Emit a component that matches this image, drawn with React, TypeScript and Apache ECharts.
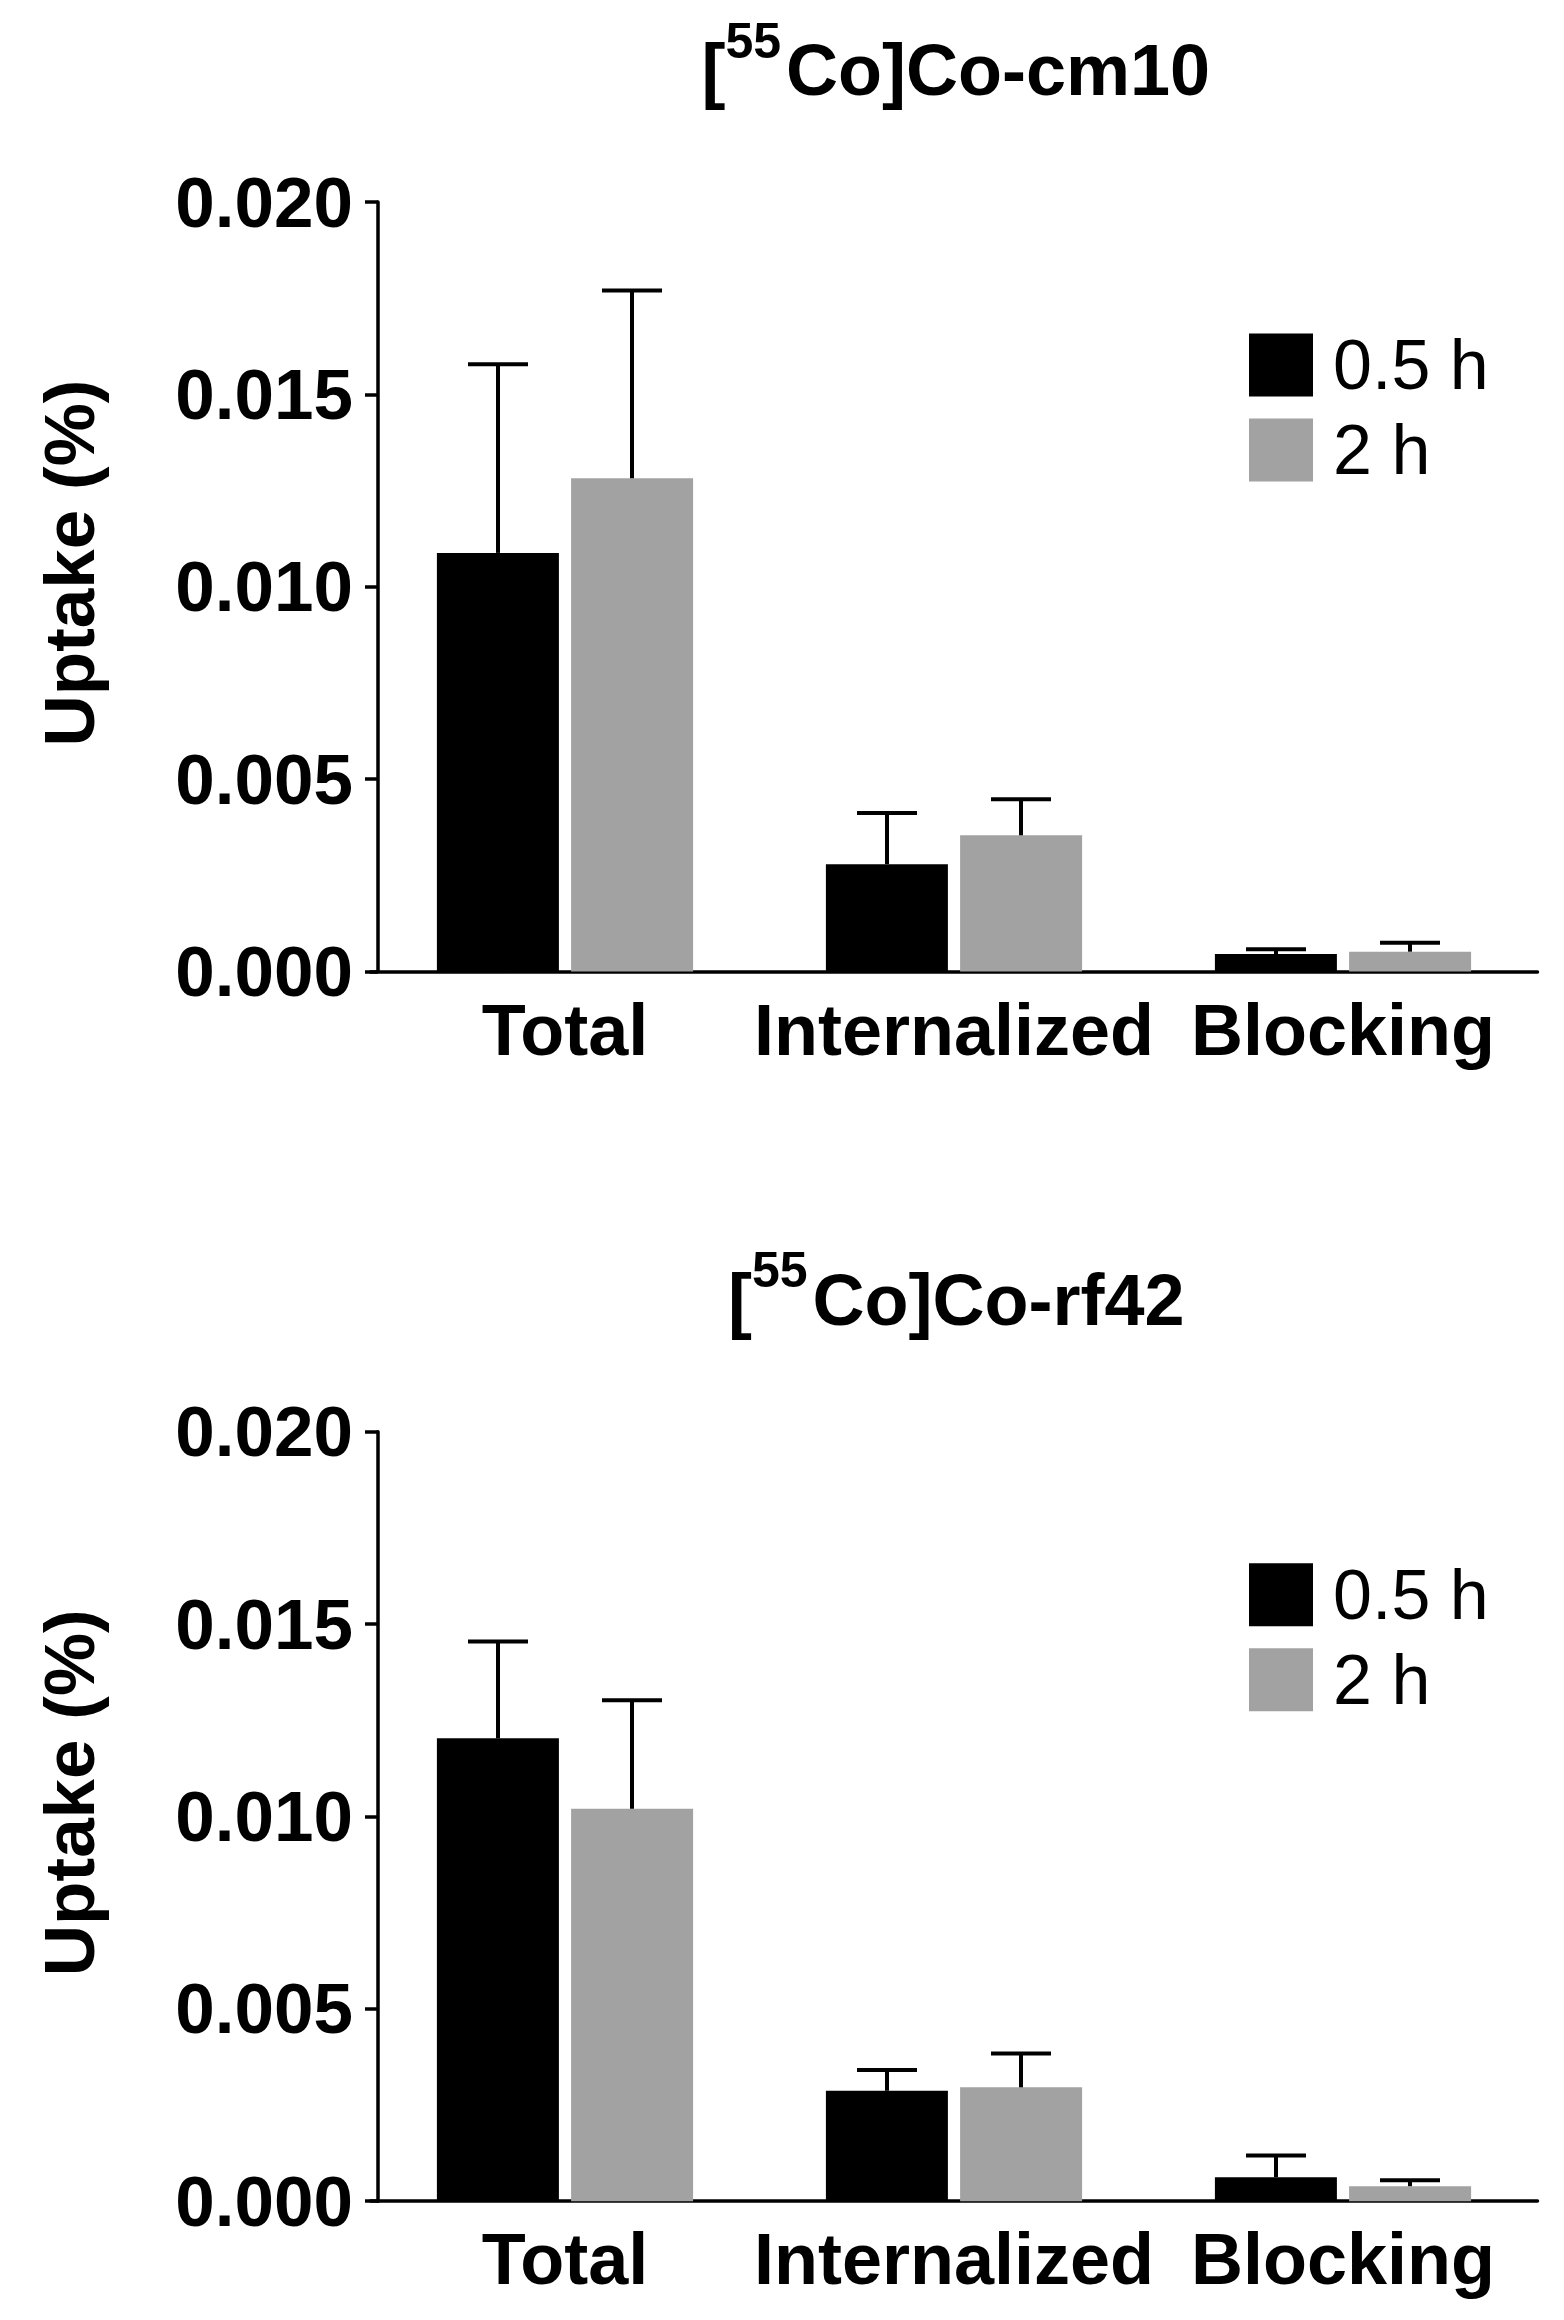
import React, { useEffect, useRef } from "react";
import * as echarts from "echarts";

const categories = ["Total", "Internalized", "Blocking"];
const seriesNames = ["0.5 h", "2 h"];
const yTicks = [0, 0.005, 0.01, 0.015, 0.02];

// [55Co]Co-cm10
const cm10Half = [0.01088, 0.00279, 0.000455];
const cm10HalfErr = [0.0049, 0.00133, 0.000122];
const cm10Two = [0.01282, 0.00354, 0.000515];
const cm10TwoErr = [0.00488, 0.00094, 0.000234];

// [55Co]Co-rf42
const rf42Half = [0.01203, 0.00287, 0.000624];
const rf42HalfErr = [0.00252, 0.00054, 0.000566];
const rf42Two = [0.0102, 0.00296, 0.00039];
const rf42TwoErr = [0.00282, 0.00088, 0.000156];

const FONT = "'Liberation Sans', Arial, Helvetica, sans-serif";
const BLACK = "#000000";
const GRAY = "#a2a2a2";
const BAR_W = 122;
const BAR_OFF = 67;

function errorSeries(
  gridIdx: number,
  vals: number[],
  errs: number[],
  off: number
) {
  return {
    type: "custom",
    xAxisIndex: gridIdx,
    yAxisIndex: gridIdx,
    z: 5,
    silent: true,
    encode: { x: 0, y: 1 },
    data: vals.map((v, i) => [i, v, errs[i]]),
    renderItem: (params: any, api: any) => {
      const cat = api.value(0);
      const v = api.value(1);
      const e = api.value(2);
      const base = api.coord([cat, v]);
      const top = api.coord([cat, v + e]);
      const x = base[0] + off;
      return {
        type: "group",
        children: [
          {
            type: "line",
            shape: { x1: x, y1: base[1], x2: x, y2: top[1] },
            style: { stroke: BLACK, lineWidth: 4 },
          },
          {
            type: "line",
            shape: { x1: x - 30, y1: top[1], x2: x + 30, y2: top[1] },
            style: { stroke: BLACK, lineWidth: 4 },
          },
        ],
      };
    },
  };
}

function barSeries(gridIdx: number, name: string, vals: number[], color: string) {
  return {
    type: "bar",
    name,
    xAxisIndex: gridIdx,
    yAxisIndex: gridIdx,
    data: vals,
    barWidth: BAR_W,
    barGap: "10%",
    itemStyle: { color },
    z: 2,
  };
}

function titleGraphic(ox: number, baseline: number, main: string, supX: number, mainX: number) {
  return [
    {
      type: "text",
      x: ox,
      y: baseline - 0.3465 * 72,
      style: { text: "[", font: `bold 72px ${FONT}`, fill: BLACK, verticalAlign: "middle", align: "left" },
    },
    {
      type: "text",
      x: supX,
      y: baseline - 37 - 0.3465 * 50,
      style: { text: "55", font: `bold 50px ${FONT}`, fill: BLACK, verticalAlign: "middle", align: "left" },
    },
    {
      type: "text",
      x: mainX,
      y: baseline - 0.3465 * 72,
      style: { text: main, font: `bold 72px ${FONT}`, fill: BLACK, verticalAlign: "middle", align: "left" },
    },
  ];
}

export default function App() {
  const ref = useRef<HTMLDivElement>(null);

  useEffect(() => {
    if (!ref.current) return;
    const chart = echarts.init(ref.current, null, { renderer: "svg" });

    const gridTops = [202, 1431.7];
    const gridH = 769.5;

    const xAxes = gridTops.map((_, i) => ({
      type: "category",
      gridIndex: i,
      data: categories,
      axisLine: { lineStyle: { color: BLACK, width: 3.5 } },
      axisTick: { alignWithLabel: true, length: 12, lineStyle: { color: BLACK, width: 3.5 } },
      axisLabel: {
        color: BLACK,
        fontFamily: FONT,
        fontWeight: "bold",
        fontSize: 72,
        margin: 22,
        interval: 0,
      },
      splitLine: { show: false },
    }));

    const yAxes = gridTops.map((_, i) => ({
      type: "value",
      gridIndex: i,
      min: yTicks[0],
      max: yTicks[yTicks.length - 1],
      interval: yTicks[1] - yTicks[0],
      offset: -7.5,
      axisLine: { show: true, lineStyle: { color: BLACK, width: 3.5 } },
      axisTick: { show: true, length: 13, lineStyle: { color: BLACK, width: 3.5 } },
      axisLabel: {
        color: BLACK,
        fontFamily: FONT,
        fontWeight: "bold",
        fontSize: 71,
        margin: 25,
        formatter: (v: number) => v.toFixed(3),
      },
      splitLine: { show: false },
    }));

    const grids = gridTops.map((t) => ({
      left: 370.5,
      top: t,
      width: 1167,
      height: gridH,
      containLabel: false,
    }));

    const legends = gridTops.map((t) => ({
      data: seriesNames,
      orient: "vertical",
      left: 1249,
      top: t + 128,
      padding: 0,
      icon: "rect",
      itemWidth: 64,
      itemHeight: 63,
      itemGap: 15,
      selectedMode: false,
      textStyle: {
        color: BLACK,
        fontFamily: FONT,
        fontSize: 70,
        lineHeight: 63,
        padding: [0, 0, 0, 15],
      },
    }));

    const yTitle = (cy: number) => ({
      type: "text",
      x: 69.5,
      y: cy,
      rotation: Math.PI / 2,
      style: {
        text: "Uptake (%)",
        font: `bold 71px ${FONT}`,
        fill: BLACK,
        align: "center",
        verticalAlign: "middle",
      },
    });

    chart.setOption({
      animation: false,
      backgroundColor: "#ffffff",
      grid: grids,
      xAxis: xAxes,
      yAxis: yAxes,
      legend: legends,
      graphic: [
        ...titleGraphic(701.5, 95, "Co]Co-cm10", 725.5, 786),
        ...titleGraphic(728, 1324.5, "Co]Co-rf42", 752, 812.5),
        yTitle(563),
        yTitle(563 + 1229.7),
      ],
      series: [
        barSeries(0, seriesNames[0], cm10Half, BLACK),
        barSeries(0, seriesNames[1], cm10Two, GRAY),
        errorSeries(0, cm10Half, cm10HalfErr, -BAR_OFF),
        errorSeries(0, cm10Two, cm10TwoErr, BAR_OFF),
        barSeries(1, seriesNames[0], rf42Half, BLACK),
        barSeries(1, seriesNames[1], rf42Two, GRAY),
        errorSeries(1, rf42Half, rf42HalfErr, -BAR_OFF),
        errorSeries(1, rf42Two, rf42TwoErr, BAR_OFF),
      ],
    });

    return () => chart.dispose();
  }, []);

  return (
    <div
      ref={ref}
      style={{ position: "absolute", left: 0, top: 0, width: 1564, height: 2320, background: "#fff" }}
    />
  );
}
